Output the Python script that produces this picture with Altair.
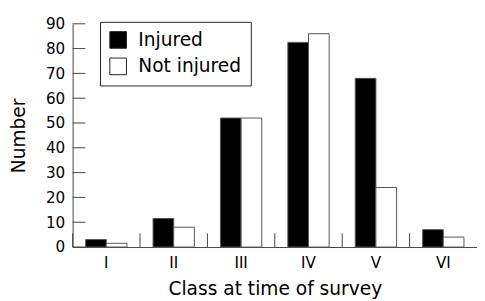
import altair as alt
import pandas as pd

classes = ["I", "II", "III", "IV", "V", "VI"]
injured = [3, 11.5, 52, 82.5, 68, 7]
not_injured = [1.5, 8, 52, 86, 24, 4]
groups = ["Injured", "Not injured"]
y_ticks = [0, 10, 20, 30, 40, 50, 60, 70, 80, 90]

rows = []
for c, a, b in zip(classes, injured, not_injured):
    rows.append({"cls": c, "group": groups[0], "n": a})
    rows.append({"cls": c, "group": groups[1], "n": b})
df = pd.DataFrame(rows)
tick_df = pd.DataFrame({"v": y_ticks})
cls_df = pd.DataFrame({"cls": classes})

W, H = 413, 228
FONT = "DejaVu Sans"
AX = "#444444"

yscale = alt.Scale(domain=[0, 90], nice=False)


def y_axis():
    return alt.Axis(title="Number", values=y_ticks, ticks=False, tickSize=0,
                    grid=False, labelPadding=8, titlePadding=17, domainColor=AX,
                    labelOverlap=False, labelFlush=False,
                    labelFontSize=15.5, titleFontSize=19, labelFont=FONT,
                    titleFont=FONT, labelColor="black", titleColor="black",
                    titleFontWeight="normal")


bars = alt.Chart(df).mark_bar(stroke="#555555", strokeWidth=1).encode(
    x=alt.X("cls:N", sort=classes,
            scale=alt.Scale(paddingInner=0.387, paddingOuter=0.1935),
            axis=alt.Axis(title="Class at time of survey", labelAngle=0, ticks=False,
                          tickSize=0, labelPadding=9, titlePadding=9,
                          domainColor=AX, labelFontSize=15.5, titleFontSize=19,
                          labelFont=FONT, titleFont=FONT, labelColor="black",
                          titleColor="black", titleFontWeight="normal")),
    xOffset=alt.XOffset("group:N", sort=groups, scale=alt.Scale(paddingInner=0, paddingOuter=0)),
    y=alt.Y("n:Q", scale=yscale, axis=y_axis()),
    color=alt.Color("group:N", sort=groups,
                    scale=alt.Scale(domain=groups, range=["black", "white"]),
                    legend=alt.Legend(title=None, orient="none", legendX=28, legendY=-2,
                                      symbolType="square", symbolSize=289,
                                      symbolStrokeColor="#222222", symbolStrokeWidth=1,
                                      labelFontSize=19, labelFont=FONT, labelColor="black",
                                      labelOffset=11, rowPadding=6, padding=9,
                                      strokeColor="#222222", fillColor="white")),
)

yticks = alt.Chart(tick_df).mark_rule(color=AX, strokeWidth=1).encode(
    y=alt.Y("v:Q", scale=yscale, axis=y_axis()),
    x=alt.value(0),
    x2=alt.value(13),
)

xticks = alt.Chart(cls_df).mark_rule(color=AX, strokeWidth=1).encode(
    x=alt.X("cls:N", sort=classes, bandPosition=0,
            scale=alt.Scale(paddingInner=0, paddingOuter=0), axis=None),
    y=alt.value(H),
    y2=alt.value(H - 14),
)

chart = alt.layer(bars, yticks, xticks).resolve_scale(x="independent").properties(
    width=W, height=H,
    padding={"left": 66, "top": 13, "right": 0, "bottom": 52},
    autosize=alt.AutoSizeParams(type="none"),
).configure_view(strokeWidth=0)

chart.save("out.html", embed_options={"renderer": "svg", "actions": False})
